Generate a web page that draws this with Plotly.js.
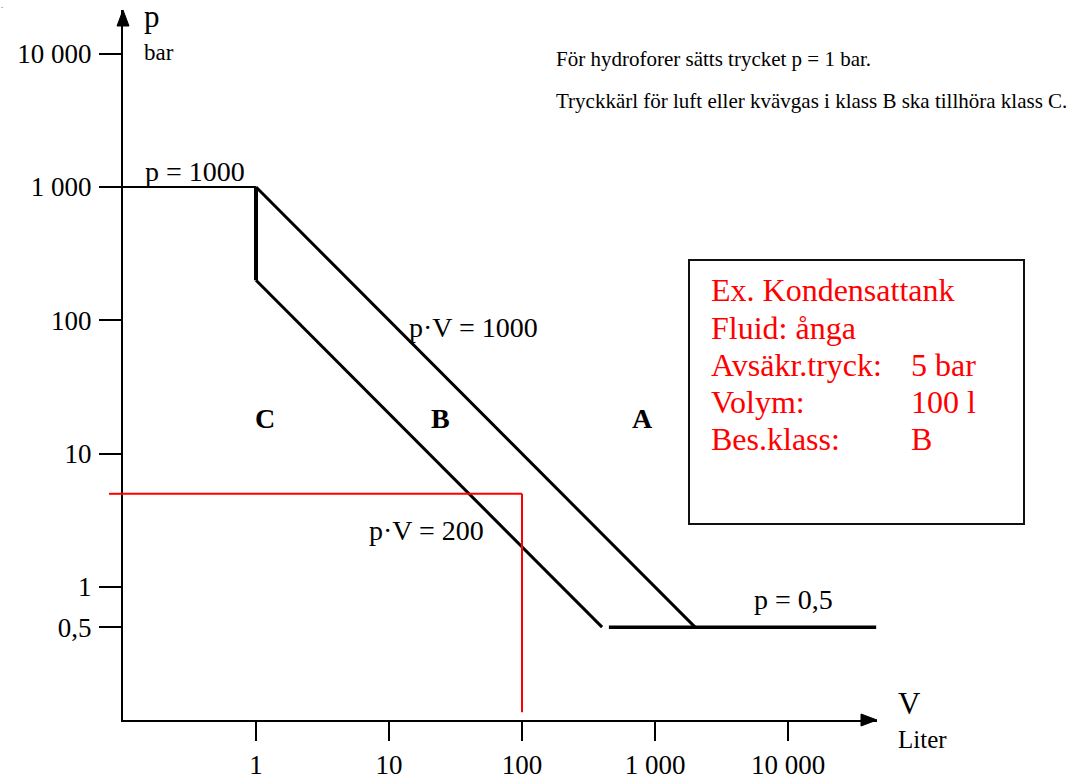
<!DOCTYPE html>
<html>
<head>
<meta charset="utf-8">
<script src="https://cdn.plot.ly/plotly-3.0.1.min.js"></script>
<style>
  html, body { margin: 0; padding: 0; background: #fff; }
  #chart { width: 1077px; height: 783px; }
</style>
</head>
<body>
<div id="chart"></div>
<script>
// Pressure-vessel classes A / B / C from pressure p (bar) and volume V (litres)

// Class boundaries
const capV   = [0.1, 1];        // p = 1000
const capP   = [1000, 1000];
const stepV  = [1, 1];          // drop at V = 1 l
const stepP  = [1000, 200];
const upperV = [1, 2000];       // p·V = 1000  (B / A)
const upperP = [1000, 0.5];
const lowerV = [1, 400];        // p·V = 200   (C / B)
const lowerP = [200, 0.5];
const floorV = [450, 46000];    // p = 0,5
const floorP = [0.5, 0.5];

// Worked example: condensate tank
const exampleP = 5;             // bar
const exampleV = 100;           // litres
const exHorizV = [0.1, exampleV];
const exHorizP = [exampleP, exampleP];
const exVertV  = [exampleV, exampleV];
const exVertP  = [exampleP, 0.115];

// Axis ticks
const xTickVals = [1, 10, 100, 1000, 10000];
const xTickText = ['1', '10', '100', '1 000', '10 000'];
const yTickVals = [0.5, 1, 10, 100, 1000, 10000];
const yTickText = ['0,5', '1', '10', '100', '1 000', '10 000'];

const SERIF = 'Liberation Serif, Times New Roman, serif';
const RED = '#ff0000';

// plot frame in page pixels
const F = { l: 123, r: 877, t: 10, b: 720 };
const px = x => (x - F.l) / (F.r - F.l);
const py = y => (F.b - y) / (F.b - F.t);

function seg(x, y, width, color) {
  return { x, y, type: 'scatter', mode: 'lines', hoverinfo: 'skip',
           line: { color: color || '#000', width } };
}

const traces = [
  seg(capV, capP, 2),
  seg(stepV, stepP, 4),
  seg(upperV, upperP, 3),
  seg(lowerV, lowerP, 3),
  seg(floorV, floorP, 3.5),
  seg(exHorizV, exHorizP, 2, RED),
  seg(exVertV, exVertP, 2, RED)
];

function txt(text, x, y, size, extra) {
  return Object.assign({
    text, x: px(x), y: py(y), xref: 'paper', yref: 'paper',
    xanchor: 'left', yanchor: 'middle', showarrow: false,
    font: { family: SERIF, size, color: '#000' }
  }, extra || {});
}

const boxFont = 32;
const boxRows = [
  ['Ex. Kondensattank', null, 290],
  ['Fluid: ånga', null, 328],
  ['Avsäkr.tryck:', exampleP + ' bar', 365],
  ['Volym:', exampleV + ' l', 402],
  ['Bes.klass:', 'B', 439]
];

const annotations = [
  txt('.', 0, 0, 8, { yanchor: 'top', borderpad: 0 }),
  txt('p', 142, 17, 31),
  txt('bar', 142, 52, 23),
  txt('V', 896, 703, 31),
  txt('Liter', 896, 739, 25),
  txt('p = 1000', 143, 171, 28),
  txt('p·V = 1000', 407, 327, 28),
  txt('p·V = 200', 367, 530, 28),
  txt('p = 0,5', 752, 599, 28),
  txt('<b>C</b>', 265, 418, 28, { xanchor: 'center' }),
  txt('<b>B</b>', 440, 418, 28, { xanchor: 'center' }),
  txt('<b>A</b>', 642, 418, 28, { xanchor: 'center' }),
  txt('För hydroforer sätts trycket p = 1 bar.', 554, 59, 21),
  txt('Tryckkärl för luft eller kvävgas i klass B ska tillhöra klass C.', 554, 101, 21)
];
boxRows.forEach(([label, value, y]) => {
  annotations.push(txt(label, 709, y, boxFont, { font: { family: SERIF, size: boxFont, color: RED } }));
  if (value) annotations.push(txt(value, 909, y, boxFont, { font: { family: SERIF, size: boxFont, color: RED } }));
});

const shapes = [
  // arrow heads on the axes
  { type: 'path', xref: 'paper', yref: 'paper', xsizemode: 'pixel', ysizemode: 'pixel',
    xanchor: 1, yanchor: 0, path: 'M -16 -6 L 0 0 L -16 6 Z',
    fillcolor: '#000', line: { color: '#000', width: 1 } },
  { type: 'path', xref: 'paper', yref: 'paper', xsizemode: 'pixel', ysizemode: 'pixel',
    xanchor: 0, yanchor: 1, path: 'M -6 -16 L 0 0 L 6 -16 Z',
    fillcolor: '#000', line: { color: '#000', width: 1 } },
  // red example line continues a little past the p axis
  { type: 'line', xref: 'paper', yref: 'y', xsizemode: 'pixel', xanchor: 0,
    x0: -14, x1: 0, y0: exampleP, y1: exampleP, line: { color: RED, width: 2 } },
  // example box
  { type: 'rect', xref: 'paper', yref: 'paper',
    x0: px(689), x1: px(1024), y0: py(524), y1: py(260),
    line: { color: '#111', width: 2 }, fillcolor: 'rgba(0,0,0,0)' }
];

const axisCommon = {
  type: 'log', showgrid: false, zeroline: false,
  showline: true, linecolor: '#000', linewidth: 2,
  ticks: 'outside', tickcolor: '#000', tickwidth: 2,
  tickmode: 'array',
  tickfont: { family: SERIF, size: 27, color: '#000' }
};

const layout = {
  width: 1077, height: 783,
  margin: { l: F.l, r: 1077 - F.r, t: F.t, b: 783 - F.b, pad: 0 },
  paper_bgcolor: '#fff', plot_bgcolor: '#fff',
  showlegend: false,
  xaxis: Object.assign({}, axisCommon, {
    range: [-1, 4.669], tickvals: xTickVals, ticktext: xTickText, ticklen: 19,
    ticklabelstandoff: 1
  }),
  yaxis: Object.assign({}, axisCommon, {
    range: [-0.9975, 4.3275], tickvals: yTickVals, ticktext: yTickText, ticklen: 22,
    ticklabelstandoff: 2
  }),
  annotations, shapes
};

Plotly.newPlot('chart', traces, layout, { staticPlot: true, displayModeBar: false });
</script>
</body>
</html>
